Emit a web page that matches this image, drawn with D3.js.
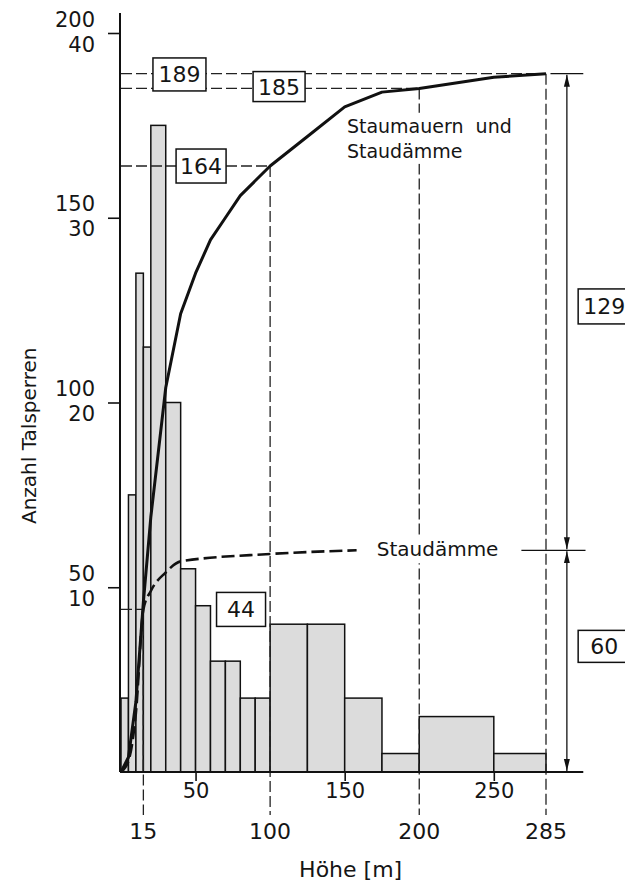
<!DOCTYPE html>
<html>
<head>
<meta charset="utf-8">
<script src="https://cdn.jsdelivr.net/npm/d3@7"></script>
<style>
  body { margin: 0; background: #fff; }
  svg { display: block; font-family: "DejaVu Sans", sans-serif; }
  text { fill: #151515; }
</style>
</head>
<body>
<div id="chart"></div>
<script>
// Histogram: height class edges [m] and number of dams per class
var binEdges = [0, 5, 10, 15, 20, 30, 40, 50, 60, 70, 80, 90, 100, 125, 150, 175, 200, 250, 285];
var binCounts = [4, 15, 27, 23, 35, 20, 11, 9, 6, 6, 4, 4, 8, 8, 4, 1, 3, 1];

// Cumulative count of Staudämme only (dashed line)
var damHeights = [0, 5, 10, 15, 20, 30, 40, 100, 158];
var damCumulative = [0, 3, 16, 44, 49, 54, 57, 59, 60];

// Left axis: cumulative count and histogram count share each tick
var cumTicks = [50, 100, 150, 200];
var histTicks = [10, 20, 30, 40];

// Bottom axis: plain ticks and the marked (dashed) heights
var lowerTicks = [50, 150, 250];
var markedHeights = [15, 100, 200, 285];
var markedValues = [44, 164, 185, 189];

var W = 625, H = 886;

var svg = d3.select('#chart').append('svg')
  .attr('width', W)
  .attr('height', H);

var x = d3.scaleLinear().domain([0, 285]).range([121, 546]);
var yCum = d3.scaleLinear().domain([0, 200]).range([772, 33]);
var yHist = d3.scaleLinear().domain([0, 40]).range([772, 33]);

// cumulative sum of the histogram = the solid curve
var cumTotal = [0].concat(Array.from(d3.cumsum(binCounts)));

var bins = binCounts.map(function(c, i) {
  return {x0: binEdges[i], x1: binEdges[i + 1], n: c};
});

// ---- bars
svg.append('g').selectAll('rect')
  .data(bins)
  .join('rect')
  .attr('x', function(d) { return x(d.x0); })
  .attr('y', function(d) { return yHist(d.n); })
  .attr('width', function(d) { return x(d.x1) - x(d.x0); })
  .attr('height', function(d) { return yHist(0) - yHist(d.n); })
  .attr('fill', '#dcdcdc')
  .attr('stroke', '#111')
  .attr('stroke-width', 1.5);

// ---- dashed helper lines
var guides = svg.append('g')
  .attr('stroke', '#222')
  .attr('stroke-width', 1.3)
  .attr('stroke-dasharray', '11,4')
  .attr('fill', 'none');

markedHeights.forEach(function(h, i) {
  var v = markedValues[i];
  guides.append('line')
    .attr('x1', x(0)).attr('x2', x(h))
    .attr('y1', yCum(v)).attr('y2', yCum(v));
  guides.append('line')
    .attr('x1', x(h)).attr('x2', x(h))
    .attr('y1', yCum(v)).attr('y2', yCum(0) + 43);
});

// ---- curves
var line = d3.line()
  .x(function(d) { return x(d[0]); })
  .y(function(d) { return yCum(d[1]); });

svg.append('path')
  .datum(binEdges.map(function(e, i) { return [e, cumTotal[i]]; }))
  .attr('d', line)
  .attr('fill', 'none')
  .attr('stroke', '#111')
  .attr('stroke-width', 3)
  .attr('stroke-linejoin', 'round');

svg.append('path')
  .datum(damHeights.map(function(h, i) { return [h, damCumulative[i]]; }))
  .attr('d', line.curve(d3.curveMonotoneX))
  .attr('fill', 'none')
  .attr('stroke', '#111')
  .attr('stroke-width', 2.6)
  .attr('stroke-dasharray', '13,5');

// ---- axes
var yAxis = d3.axisLeft(yCum)
  .tickValues(cumTicks)
  .tickSize(12)
  .tickSizeOuter(0)
  .tickFormat('');

var gy = svg.append('g')
  .attr('transform', 'translate(' + (x(0) - 1) + ',0)')
  .call(yAxis);
gy.select('.domain').remove();
gy.selectAll('.tick line').attr('stroke', '#111').attr('stroke-width', 1.6);

// two stacked labels per tick: cumulative count above, class count below
gy.selectAll('.tick').each(function(d, i) {
  var tick = d3.select(this);
  [[d, -7], [histTicks[i], 18]].forEach(function(p) {
    tick.append('text')
      .attr('x', -25).attr('y', p[1])
      .attr('text-anchor', 'end')
      .attr('font-size', 21)
      .attr('font-family', '"DejaVu Sans", sans-serif')
      .attr('fill', '#151515')
      .text(p[0]);
  });
});

svg.append('line')
  .attr('x1', x(0) - 1).attr('x2', x(0) - 1)
  .attr('y1', yCum(0)).attr('y2', yCum(200) - 20)
  .attr('stroke', '#111').attr('stroke-width', 2);

var xAxis = d3.axisBottom(x)
  .tickValues(lowerTicks)
  .tickSize(9)
  .tickSizeOuter(0);

var gx = svg.append('g')
  .attr('transform', 'translate(0,' + yCum(0) + ')')
  .call(xAxis);
gx.select('.domain').remove();
gx.selectAll('.tick line').attr('stroke', '#111').attr('stroke-width', 1.6);
gx.selectAll('.tick text')
  .attr('y', 26).attr('dy', null)
  .attr('font-size', 21)
  .attr('font-family', '"DejaVu Sans", sans-serif')
  .attr('fill', '#151515');

svg.append('line')
  .attr('x1', x(0) - 1).attr('x2', x(310))
  .attr('y1', yCum(0)).attr('y2', yCum(0))
  .attr('stroke', '#111').attr('stroke-width', 2);

svg.append('g').selectAll('text')
  .data(markedHeights)
  .join('text')
  .attr('x', function(d) { return x(d); })
  .attr('y', yCum(0) + 67)
  .attr('text-anchor', 'middle')
  .attr('font-size', 22)
  .text(function(d) { return d; });

svg.append('text')
  .attr('x', x(154))
  .attr('y', yCum(0) + 105)
  .attr('text-anchor', 'middle')
  .attr('font-size', 22)
  .text('Höhe [m]');

svg.append('text')
  .attr('transform', 'translate(36,' + yCum(91) + ') rotate(-90)')
  .attr('text-anchor', 'middle')
  .attr('font-size', 20)
  .text('Anzahl Talsperren');

// ---- right-hand split arrows (129 Staumauern, 60 Staudämme)
var defs = svg.append('defs');
defs.append('marker')
  .attr('id', 'head')
  .attr('viewBox', '0 -4 12 8')
  .attr('refX', 12).attr('refY', 0)
  .attr('markerUnits', 'userSpaceOnUse')
  .attr('markerWidth', 12).attr('markerHeight', 8)
  .attr('orient', 'auto-start-reverse')
  .append('path')
  .attr('d', 'M0,-3L12,0L0,3Z')
  .attr('fill', '#111');

var arrowX = x(299);
var total = cumTotal[cumTotal.length - 1];
var damTotal = damCumulative[damCumulative.length - 1];

[[total, damTotal], [damTotal, 0]].forEach(function(seg) {
  svg.append('line')
    .attr('x1', arrowX).attr('x2', arrowX)
    .attr('y1', yCum(seg[0]) + 1).attr('y2', yCum(seg[1]) - 1)
    .attr('stroke', '#111').attr('stroke-width', 1.3)
    .attr('marker-start', 'url(#head)')
    .attr('marker-end', 'url(#head)');
});

svg.append('line')
  .attr('x1', x(288)).attr('x2', x(310))
  .attr('y1', yCum(total)).attr('y2', yCum(total))
  .attr('stroke', '#111').attr('stroke-width', 1.3);
svg.append('line')
  .attr('x1', x(268.5)).attr('x2', x(311.5))
  .attr('y1', yCum(damTotal)).attr('y2', yCum(damTotal))
  .attr('stroke', '#111').attr('stroke-width', 1.3);

// ---- texts with white backing so guide lines break around them
function label(lines, px, py, size, gap) {
  var g = svg.append('g');
  var t = g.append('text')
    .attr('font-size', size)
    .style('white-space', 'pre');
  lines.forEach(function(s, i) {
    t.append('tspan').attr('x', px).attr('y', py + i * gap).text(s);
  });
  var b = t.node().getBBox();
  g.insert('rect', 'text')
    .attr('x', b.x - 3).attr('y', b.y - 2)
    .attr('width', b.width + 6).attr('height', b.height + 4)
    .attr('fill', '#fff');
}

label(['Staumauern  und', 'Staudämme'], x(151.5), yCum(173), 19, 25);
label(['Staudämme'], x(171.5), yCum(damTotal) + 6, 20, 0);

// ---- boxed numbers
var boxes = [
  {text: '189', x: 39.2, y: 189, w: 53, h: 33, dy: 0.8},
  {text: '185', x: 106, y: 185.5, w: 52, h: 30, dy: 0},
  {text: '164', x: 53.7, y: 164, w: 50, h: 34, dy: 0},
  {text: '44', x: 80.5, y: 44, w: 49, h: 34, dy: 0},
  {text: String(total - damTotal), x: 324, y: 126, w: 52, h: 35, dy: 0},
  {text: String(damTotal), x: 324, y: 34, w: 52, h: 32, dy: 0}
];

var gb = svg.append('g').selectAll('g')
  .data(boxes)
  .join('g')
  .attr('transform', function(d) {
    return 'translate(' + x(d.x) + ',' + (yCum(d.y) + d.dy) + ')';
  });

gb.append('rect')
  .attr('x', function(d) { return -d.w / 2; })
  .attr('y', function(d) { return -d.h / 2; })
  .attr('width', function(d) { return d.w; })
  .attr('height', function(d) { return d.h; })
  .attr('fill', '#fff')
  .attr('stroke', '#111')
  .attr('stroke-width', 1.5);

gb.append('text')
  .attr('text-anchor', 'middle')
  .attr('y', 8)
  .attr('font-size', 22)
  .text(function(d) { return d.text; });
</script>
</body>
</html>
